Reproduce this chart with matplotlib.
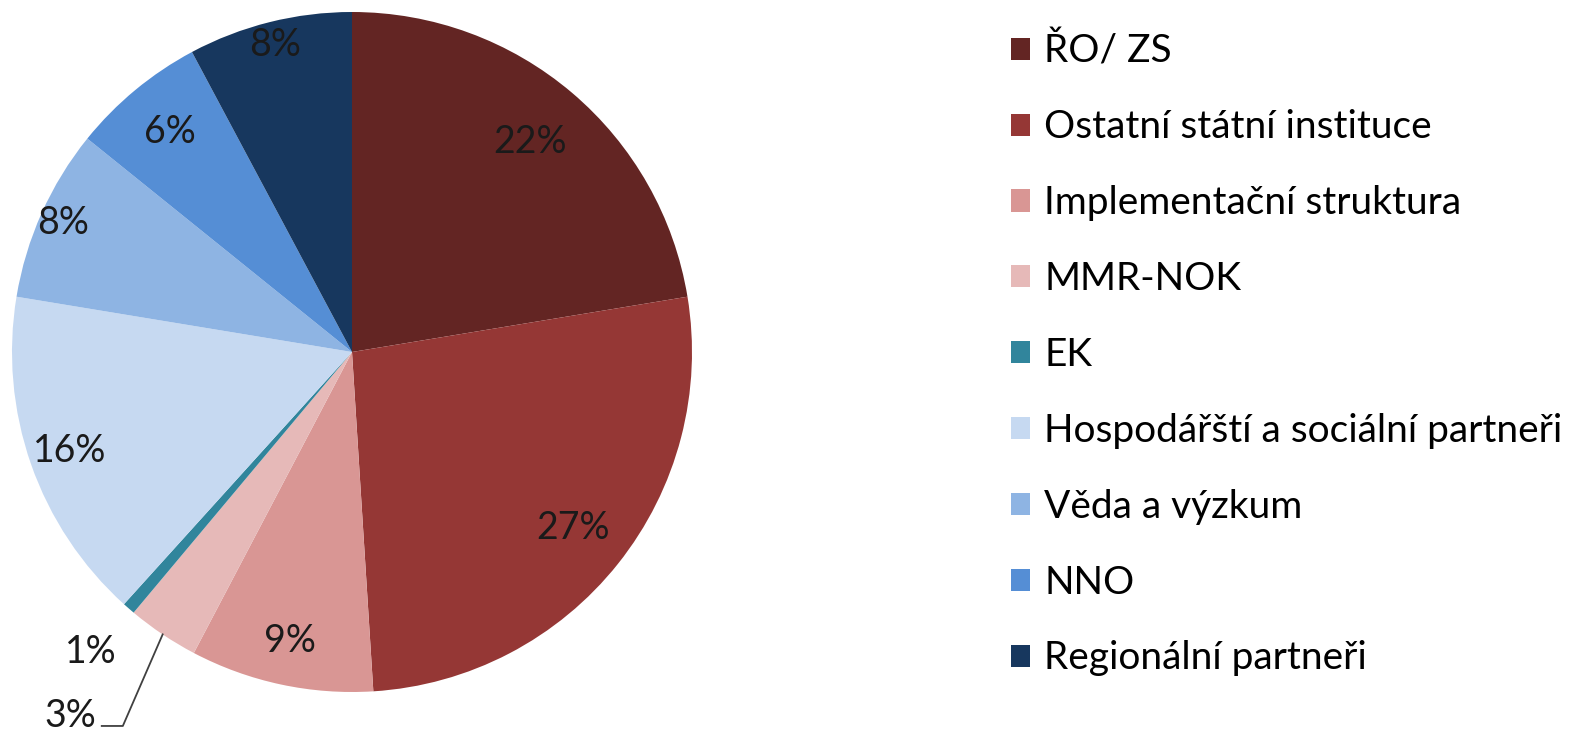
import numpy as np
import matplotlib
matplotlib.use("Agg")
import matplotlib.pyplot as plt

plt.rcParams['font.family'] = ['Lato', 'DejaVu Sans']

labels = ['ŘO/ ZS', 'Ostatní státní instituce', 'Implementační struktura',
          'MMR-NOK', 'EK', 'Hospodářští a sociální partneři',
          'Věda a výzkum', 'NNO', 'Regionální partneři']
values = [22.4, 26.6, 8.7, 3.4, 0.6, 15.9, 8.2, 6.4, 7.8]
colors = ['#632523', '#953735', '#D99694', '#E6B9B8', '#31859C',
          '#C6D9F1', '#8EB4E3', '#558ED5', '#17375E']
# radial position of each percentage label (fraction of radius)
label_r = [0.81, 0.83, 0.87, 1.0, 1.17, 0.88, 0.93, 0.84, 0.93]

fig = plt.figure(figsize=(15.71, 7.32), dpi=100)
ax = fig.add_axes([12 / 1571, 40 / 732, 680 / 1571, 680 / 732])

wedges, texts, autotexts = ax.pie(values, colors=colors, startangle=90,
                                  counterclock=False, autopct='%1.0f%%',
                                  textprops=dict(fontsize=27, color='#1a1a1a'))
ax.set_xlim(-1, 1)
ax.set_ylim(-1, 1)
ax.set_aspect('equal')
ax.axis('off')

for i, w in enumerate(wedges):
    mid = np.deg2rad((w.theta1 + w.theta2) / 2)
    autotexts[i].set_position((label_r[i] * np.cos(mid), label_r[i] * np.sin(mid)))
    autotexts[i].set_clip_on(False)
    if labels[i] == 'MMR-NOK':
        # leader line for the small slice
        p0 = (np.cos(mid), np.sin(mid))
        ang2 = np.deg2rad(-121.5)
        p1 = (1.29 * np.cos(ang2), 1.29 * np.sin(ang2))
        p2 = (p1[0] - 0.062, p1[1])
        ax.plot([p0[0], p1[0], p2[0]], [p0[1], p1[1], p2[1]], color='#404040',
                lw=1.3, clip_on=False)
        autotexts[i].set_position((p2[0] - 0.015, p2[1] + 0.03))
        autotexts[i].set_ha('right')

ax.legend(wedges, labels, loc='upper left', bbox_to_anchor=(995 / 1571, 1 - 17 / 732),
          bbox_transform=fig.transFigure, frameon=False, fontsize=28,
          handlelength=0.5, handleheight=0.5, handletextpad=0.36,
          labelspacing=1.025, borderaxespad=0)

plt.savefig('out.png', dpi=100)
